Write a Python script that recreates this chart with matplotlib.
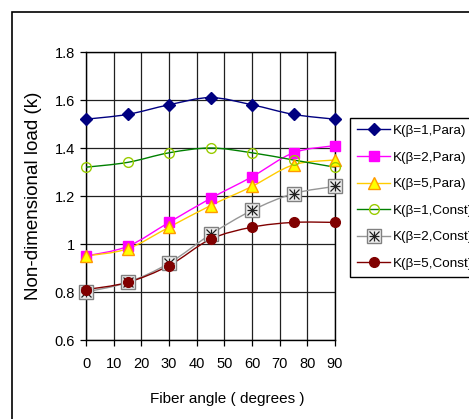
import matplotlib
matplotlib.use("Agg")
import matplotlib.pyplot as plt
import numpy as np
from matplotlib.path import Path
from matplotlib.patches import PathPatch, Rectangle
from matplotlib.lines import Line2D
from matplotlib.legend_handler import HandlerTuple

plt.rcParams['font.family'] = ['Liberation Sans', 'DejaVu Sans']

angles = [0, 15, 30, 45, 60, 75, 90]
k_b1_para = [1.52, 1.54, 1.58, 1.61, 1.58, 1.54, 1.52]
k_b2_para = [0.95, 0.99, 1.09, 1.19, 1.28, 1.38, 1.41]
k_b5_para = [0.95, 0.98, 1.07, 1.16, 1.24, 1.33, 1.35]
k_b1_const = [1.32, 1.34, 1.38, 1.40, 1.38, 1.35, 1.32]
k_b2_const = [0.80, 0.84, 0.92, 1.04, 1.14, 1.21, 1.24]
k_b5_const = [0.81, 0.84, 0.91, 1.02, 1.07, 1.09, 1.09]
labels = ['K(β=1,Para)', 'K(β=2,Para)', 'K(β=5,Para)',
          'K(β=1,Const)', 'K(β=2,Const)', 'K(β=5,Const)']
xticks = [0, 10, 20, 30, 40, 50, 60, 70, 80, 90]
yticks = [0.6, 0.8, 1.0, 1.2, 1.4, 1.6, 1.8]
yticklabels = ['0.6', '0.8', '1', '1.2', '1.4', '1.6', '1.8']

W, H = 469, 419
fig = plt.figure(figsize=(W / 100, H / 100), dpi=100)
ax = fig.add_axes([86 / W, 1 - 340 / H, (335 - 86) / W, (340 - 52) / H])

# outer chart border
fig.patches.append(Rectangle((12 / W, -0.1), 1.2, 1.1 - 12 / H,
                             transform=fig.transFigure, fill=False,
                             edgecolor='black', linewidth=1.2, zorder=0))


def smooth(ax, xs, ys, color, lw=1.0):
    p = np.column_stack([xs, ys]).astype(float)
    n = len(p)
    verts = [p[0]]
    codes = [Path.MOVETO]
    for i in range(n - 1):
        p0 = p[i - 1] if i > 0 else p[i]
        p1 = p[i]
        p2 = p[i + 1]
        p3 = p[i + 2] if i + 2 < n else p[i + 1]
        c1 = p1 + (p2 - p0) / 6.0
        c2 = p2 - (p3 - p1) / 6.0
        verts += [c1, c2, p2]
        codes += [Path.CURVE4] * 3
    ax.add_patch(PathPatch(Path(verts, codes), fill=False, edgecolor=color,
                           linewidth=lw, zorder=3))


series = [
    (k_b1_para, '#000080', dict(marker='D', ms=6, mfc='#000080', mec='#000080')),
    (k_b2_para, '#FF00FF', dict(marker='s', ms=7, mfc='#FF00FF', mec='#FF00FF')),
    (k_b5_para, '#FFCC00', dict(marker='^', ms=8, mfc='#FFFF00', mec='#FF9900')),
    (k_b1_const, '#008000', dict(marker='o', ms=7, mfc='none', mec='#99CC00')),
    (k_b2_const, '#969696', dict(marker='s', ms=10, mfc='#EEEEEE', mec='#808080')),
    (k_b5_const, '#800000', dict(marker='o', ms=7, mfc='#800000', mec='#800000')),
]

handles = []
for i, (ys, col, mk) in enumerate(series):
    smooth(ax, angles, ys, col)
    ax.plot(angles, ys, linestyle='none', zorder=4 + i, clip_on=False, **mk)
    h = Line2D([], [], color=col, lw=1.0, **mk)
    if i == 4:
        ax.plot(angles, ys, linestyle='none', marker='x', ms=7, mec='#202020',
                mew=0.9, zorder=4 + i, clip_on=False)
        ax.plot(angles, ys, linestyle='none', marker='+', ms=7, mec='#202020',
                mew=0.9, zorder=4 + i, clip_on=False)
        hx = Line2D([], [], linestyle='none', marker='x', ms=7, mec='#202020', mew=0.9)
        hp = Line2D([], [], linestyle='none', marker='+', ms=7, mec='#202020', mew=0.9)
        h = (h, hx, hp)
    handles.append(h)

ax.set_xlim(0, 90)
ax.set_ylim(0.6, 1.8)
ax.set_xticks(xticks)
ax.set_yticks(yticks)
ax.set_yticklabels(yticklabels)
ax.grid(True, color='#202020', linewidth=0.9)
ax.set_axisbelow(True)
for s in ax.spines.values():
    s.set_color('black')
    s.set_linewidth(1.0)
ax.tick_params(axis='both', direction='out', length=4, width=0.9,
               labelsize=10.5, colors='black', pad=4)
ax.tick_params(axis='x', pad=8)
ax.set_xlabel('Fiber angle ( degrees )', fontsize=11)
ax.xaxis.set_label_coords(0.567, -0.18)
ax.set_ylabel('Non-dimensional load (k)', fontsize=13.5)
ax.yaxis.set_label_coords(-0.178, 0.5)

leg = fig.legend(handles, labels, loc='upper left',
                 bbox_to_anchor=(350 / W, 1 - 118 / H), borderaxespad=0,
                 fontsize=9.7, handlelength=2.5, labelspacing=1.05,
                 handletextpad=0.2, borderpad=0.5, fancybox=False,
                 edgecolor='black', framealpha=1,
                 handler_map={tuple: HandlerTuple(ndivide=1)})
leg.get_frame().set_linewidth(1.0)

fig.savefig('out.png', dpi=100)
